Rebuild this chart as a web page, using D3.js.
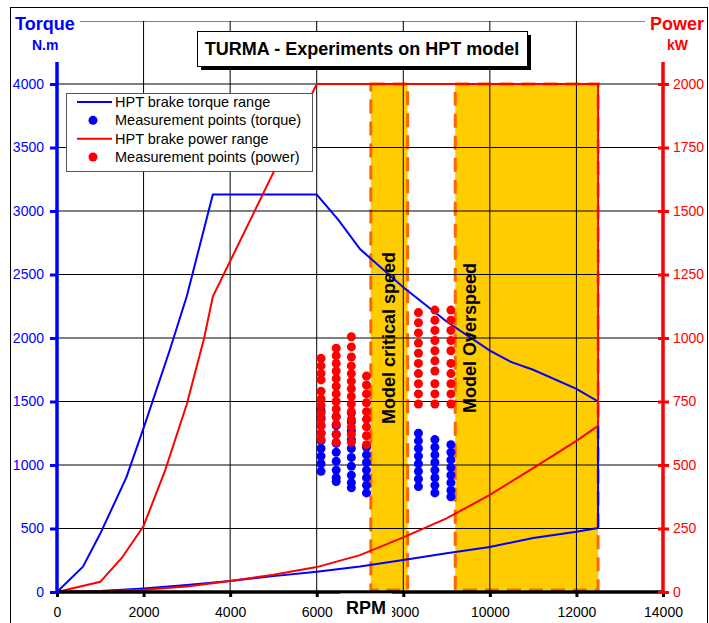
<!DOCTYPE html>
<html>
<head>
<meta charset="utf-8">
<script src="https://cdn.jsdelivr.net/npm/d3@7/dist/d3.min.js"></script>
<style>
  body { margin: 0; background: #fff; }
  text { font-family: "Liberation Sans", Arial, sans-serif; }
</style>
</head>
<body>
<script>
// ---- data ----
var rpmTicks    = [ 0, 2000, 4000, 6000, 8000, 10000, 12000, 14000 ];
var torqueTicks = [ 0, 500, 1000, 1500, 2000, 2500, 3000, 3500, 4000 ];
var powerTicks  = [ 0, 250, 500, 750, 1000, 1250, 1500, 1750, 2000 ];

// HPT brake torque range (rpm, N.m) - upper edge then back along lower edge
var torqueUpper = [ [0,0], [600,200], [1000,460], [1600,900], [2000,1290], [2600,1900], [3000,2330], [3600,3130],
                    [6000,3130], [6500,2930], [7000,2700], [8000,2400], [9000,2130], [10000,1900], [10500,1810],
                    [11000,1750], [12000,1600], [12500,1500], [12500,504] ];
var torqueLower = [ [0,0], [1000,8], [2000,28], [3000,55], [4000,87], [5000,125], [6000,160], [7000,200],
                    [8000,252], [9000,305], [10000,355], [11000,425], [12000,475], [12500,504] ];

// HPT brake power range (rpm, kW)
var powerUpper = [ [0,0], [1000,40], [1500,135], [2000,260], [2500,480], [3000,740], [3400,1000], [3600,1163],
                   [6000,2000], [12500,2000], [12500,654] ];
var powerLower = [ [0,0], [1000,3], [2000,9], [3000,22], [4000,43], [5000,68], [6000,98], [7000,145],
                   [8000,215], [9000,290], [10000,382], [11000,488], [12000,595], [12500,654] ];

// measurement points, one column per speed
var measRpm = [ 6100, 6450, 6800, 7150, 8350, 8730, 9100 ];
var measTorque = [
  [ 1430, 1370, 1310, 1250, 1190, 1130, 1070, 1010, 950 ],
  [ 1380, 1310, 1240, 1170, 1100, 1030, 960, 900, 870 ],
  [ 1410, 1340, 1270, 1200, 1130, 1060, 990, 920, 860, 820 ],
  [ 1140, 1080, 1020, 960, 900, 840, 780 ],
  [ 1250, 1190, 1130, 1070, 1010, 950, 890, 830 ],
  [ 1200, 1140, 1080, 1020, 960, 900, 840, 780 ],
  [ 1160, 1100, 1040, 980, 920, 860, 800, 750 ]
];
var measPower = [
  [ 920, 890, 860, 835, 790, 760, 735, 705, 680, 655, 625, 600 ],
  [ 960, 930, 900, 870, 840, 810, 780, 750, 720, 690, 660, 620, 590 ],
  [ 1005, 965, 925, 890, 860, 830, 800, 770, 740, 710, 680, 650, 620, 590 ],
  [ 850, 815, 780, 745, 710, 680, 650, 615, 580 ],
  [ 1100, 1060, 1020, 980, 940, 900, 860, 820, 780, 740 ],
  [ 1110, 1070, 1030, 990, 950, 910, 870, 820, 780, 740 ],
  [ 1110, 1070, 1030, 990, 950, 900, 860, 820, 780, 740 ]
];

// speed zones (rpm)
var zones = [
  { name: 'Model critical speed', from: 7250, to: 8100 },
  { name: 'Model Overspeed',      from: 9200, to: 12500 }
];

var legendItems = [
  { label: 'HPT brake torque range',     color: '#0000ff', kind: 'line' },
  { label: 'Measurement points (torque)', color: '#0000ff', kind: 'dot' },
  { label: 'HPT brake power range',      color: '#ff0000', kind: 'line' },
  { label: 'Measurement points (power)', color: '#ff0000', kind: 'dot' }
];

// ---- drawing ----
var W = 709, H = 623;
var svg = d3.select( 'body' ).append( 'svg' )
    .attr( 'width', W ).attr( 'height', H );

var x  = d3.scaleLinear().domain( [0, 14000] ).range( [57, 663] );
var yL = d3.scaleLinear().domain( [0, 4000] ).range( [592, 84] );
var yR = d3.scaleLinear().domain( [0, 2000] ).range( [592, 84] );
var plotTop = 21;

// outer frame
svg.append( 'rect' )
    .attr( 'x', 10.5 ).attr( 'y', 7.5 ).attr( 'width', 697 ).attr( 'height', 640 )
    .attr( 'fill', 'none' ).attr( 'stroke', '#000' );

// plot top border
svg.append( 'line' )
    .attr( 'x1', 80 ).attr( 'x2', 645 ).attr( 'y1', plotTop + 0.5 ).attr( 'y2', plotTop + 0.5 )
    .attr( 'stroke', '#808080' );

// zones
zones.forEach( function ( z ) {
  svg.append( 'rect' )
      .attr( 'x', x( z.from ) ).attr( 'width', x( z.to ) - x( z.from ) )
      .attr( 'y', yR( 2000 ) ).attr( 'height', yR( 0 ) - yR( 2000 ) - 2 )
      .attr( 'fill', '#ffcc00' )
      .attr( 'stroke', '#ff6600' ).attr( 'stroke-width', 3 )
      .attr( 'stroke-dasharray', '14,8' );
} );

// grid
svg.append( 'g' ).selectAll( 'line' ).data( rpmTicks.slice( 1, -1 ) ).join( 'line' )
    .attr( 'x1', function ( d ) { return x( d ); } ).attr( 'x2', function ( d ) { return x( d ); } )
    .attr( 'y1', plotTop ).attr( 'y2', yL( 0 ) )
    .attr( 'stroke', '#000' ).attr( 'stroke-width', 1 );
svg.append( 'g' ).selectAll( 'line' ).data( torqueTicks.slice( 1 ) ).join( 'line' )
    .attr( 'x1', x( 0 ) ).attr( 'x2', x( 14000 ) )
    .attr( 'y1', function ( d ) { return yL( d ); } ).attr( 'y2', function ( d ) { return yL( d ); } )
    .attr( 'stroke', '#000' ).attr( 'stroke-width', 1 );

// range lines
var lineT = d3.line().x( function ( d ) { return x( d[0] ); } ).y( function ( d ) { return yL( d[1] ); } );
var lineP = d3.line().x( function ( d ) { return x( d[0] ); } ).y( function ( d ) { return yR( d[1] ); } );

[ torqueUpper, torqueLower ].forEach( function ( s ) {
  svg.append( 'path' ).attr( 'd', lineT( s ) )
      .attr( 'fill', 'none' ).attr( 'stroke', '#0000ff' ).attr( 'stroke-width', 2 );
} );
[ powerUpper, powerLower ].forEach( function ( s ) {
  svg.append( 'path' ).attr( 'd', lineP( s ) )
      .attr( 'fill', 'none' ).attr( 'stroke', '#ff0000' ).attr( 'stroke-width', 2 );
} );

// measurement points
var torquePts = [], powerPts = [];
measRpm.forEach( function ( r, i ) {
  measTorque[i].forEach( function ( v ) { torquePts.push( [ r, v ] ); } );
  measPower[i].forEach( function ( v ) { powerPts.push( [ r, v ] ); } );
} );
svg.append( 'g' ).selectAll( 'circle' ).data( torquePts ).join( 'circle' )
    .attr( 'cx', function ( d ) { return x( d[0] ); } ).attr( 'cy', function ( d ) { return yL( d[1] ); } )
    .attr( 'r', 4.5 ).attr( 'fill', '#0000ff' );
svg.append( 'g' ).selectAll( 'circle' ).data( powerPts ).join( 'circle' )
    .attr( 'cx', function ( d ) { return x( d[0] ); } ).attr( 'cy', function ( d ) { return yR( d[1] ); } )
    .attr( 'r', 4.5 ).attr( 'fill', '#ff0000' );

// zone labels
zones.forEach( function ( z, i ) {
  var cx = i === 0 ? 395 : 476;
  svg.append( 'text' )
      .attr( 'transform', 'translate(' + cx + ',338) rotate(-90)' )
      .attr( 'text-anchor', 'middle' )
      .attr( 'font-size', 18 ).attr( 'font-weight', 'bold' ).attr( 'fill', '#000' )
      .text( z.name );
} );

// axes
function styleAxis( g, color ) {
  g.select( '.domain' ).remove();
  g.selectAll( 'text' ).attr( 'fill', color ).attr( 'font-size', 14 )
      .attr( 'font-family', '"Liberation Sans", Arial, sans-serif' );
  g.selectAll( '.tick line' ).attr( 'stroke', color ).attr( 'stroke-width', 3 );
}

svg.append( 'g' ).attr( 'transform', 'translate(0,' + yL( 0 ) + ')' )
    .call( d3.axisBottom( x ).tickValues( rpmTicks ).tickFormat( d3.format( 'd' ) ).tickSize( 5 ).tickPadding( 10 ) )
    .call( function ( g ) { styleAxis( g, '#000' ); } );
svg.append( 'line' )
    .attr( 'x1', x( 0 ) ).attr( 'x2', x( 14000 ) ).attr( 'y1', yL( 0 ) ).attr( 'y2', yL( 0 ) )
    .attr( 'stroke', '#000' ).attr( 'stroke-width', 3.5 );

svg.append( 'g' ).attr( 'transform', 'translate(' + x( 0 ) + ',0)' )
    .call( d3.axisLeft( yL ).tickValues( torqueTicks ).tickFormat( d3.format( 'd' ) ).tickSize( 7 ).tickPadding( 6 ) )
    .call( function ( g ) { styleAxis( g, '#0000ff' ); } );
svg.append( 'line' )
    .attr( 'x1', x( 0 ) ).attr( 'x2', x( 0 ) ).attr( 'y1', 62 ).attr( 'y2', yL( 0 ) + 1 )
    .attr( 'stroke', '#0000ff' ).attr( 'stroke-width', 3.5 );

svg.append( 'g' ).attr( 'transform', 'translate(' + x( 14000 ) + ',0)' )
    .call( d3.axisRight( yR ).tickValues( powerTicks ).tickFormat( d3.format( 'd' ) ).tickSize( 6 ).tickPadding( 4 ) )
    .call( function ( g ) {
      styleAxis( g, '#ff0000' );
      g.selectAll( '.tick line' ).attr( 'x1', -5 );
    } );
svg.append( 'line' )
    .attr( 'x1', x( 14000 ) ).attr( 'x2', x( 14000 ) ).attr( 'y1', 62 ).attr( 'y2', yL( 0 ) + 1 )
    .attr( 'stroke', '#ff0000' ).attr( 'stroke-width', 3.5 );

// RPM label on white patch
svg.append( 'rect' ).attr( 'x', 340 ).attr( 'y', 593.5 ).attr( 'width', 52 ).attr( 'height', 30 ).attr( 'fill', '#fff' );
svg.append( 'text' ).attr( 'x', 366 ).attr( 'y', 614 ).attr( 'text-anchor', 'middle' )
    .attr( 'font-size', 18 ).attr( 'font-weight', 'bold' ).text( 'RPM' );

// axis titles
svg.append( 'text' ).attr( 'x', 15 ).attr( 'y', 30 ).attr( 'font-size', 18 ).attr( 'font-weight', 'bold' )
    .attr( 'fill', '#0000ff' ).text( 'Torque' );
svg.append( 'text' ).attr( 'x', 32 ).attr( 'y', 50 ).attr( 'font-size', 14 ).attr( 'font-weight', 'bold' )
    .attr( 'fill', '#0000ff' ).text( 'N.m' );
svg.append( 'text' ).attr( 'x', 650 ).attr( 'y', 30 ).attr( 'font-size', 18 ).attr( 'font-weight', 'bold' )
    .attr( 'fill', '#ff0000' ).text( 'Power' );
svg.append( 'text' ).attr( 'x', 667 ).attr( 'y', 50 ).attr( 'font-size', 14 ).attr( 'font-weight', 'bold' )
    .attr( 'fill', '#ff0000' ).text( 'kW' );

// title box with shadow
svg.append( 'rect' ).attr( 'x', 201 ).attr( 'y', 35 ).attr( 'width', 330 ).attr( 'height', 35 ).attr( 'fill', '#000' );
svg.append( 'rect' ).attr( 'x', 197.5 ).attr( 'y', 31.5 ).attr( 'width', 330 ).attr( 'height', 35 )
    .attr( 'fill', '#fff' ).attr( 'stroke', '#000' );
svg.append( 'text' ).attr( 'x', 362 ).attr( 'y', 55 ).attr( 'text-anchor', 'middle' )
    .attr( 'font-size', 18 ).attr( 'font-weight', 'bold' ).text( 'TURMA - Experiments on HPT model' );

// legend
var lg = svg.append( 'g' );
lg.append( 'rect' ).attr( 'x', 66.5 ).attr( 'y', 93.5 ).attr( 'width', 246 ).attr( 'height', 78 )
    .attr( 'fill', '#fff' ).attr( 'stroke', '#555' );
var rowY = d3.scalePoint().domain( d3.range( legendItems.length ) ).range( [102, 157] );
legendItems.forEach( function ( it, i ) {
  var yy = rowY( i );
  if ( it.kind === 'line' ) {
    lg.append( 'line' ).attr( 'x1', 77 ).attr( 'x2', 112 ).attr( 'y1', yy ).attr( 'y2', yy )
        .attr( 'stroke', it.color ).attr( 'stroke-width', 2 );
  } else {
    lg.append( 'circle' ).attr( 'cx', 93 ).attr( 'cy', yy ).attr( 'r', 4.5 ).attr( 'fill', it.color );
  }
  lg.append( 'text' ).attr( 'x', 115 ).attr( 'y', yy + 5 ).attr( 'font-size', 14.5 ).attr( 'fill', '#000' )
      .text( it.label );
} );
</script>
</body>
</html>
